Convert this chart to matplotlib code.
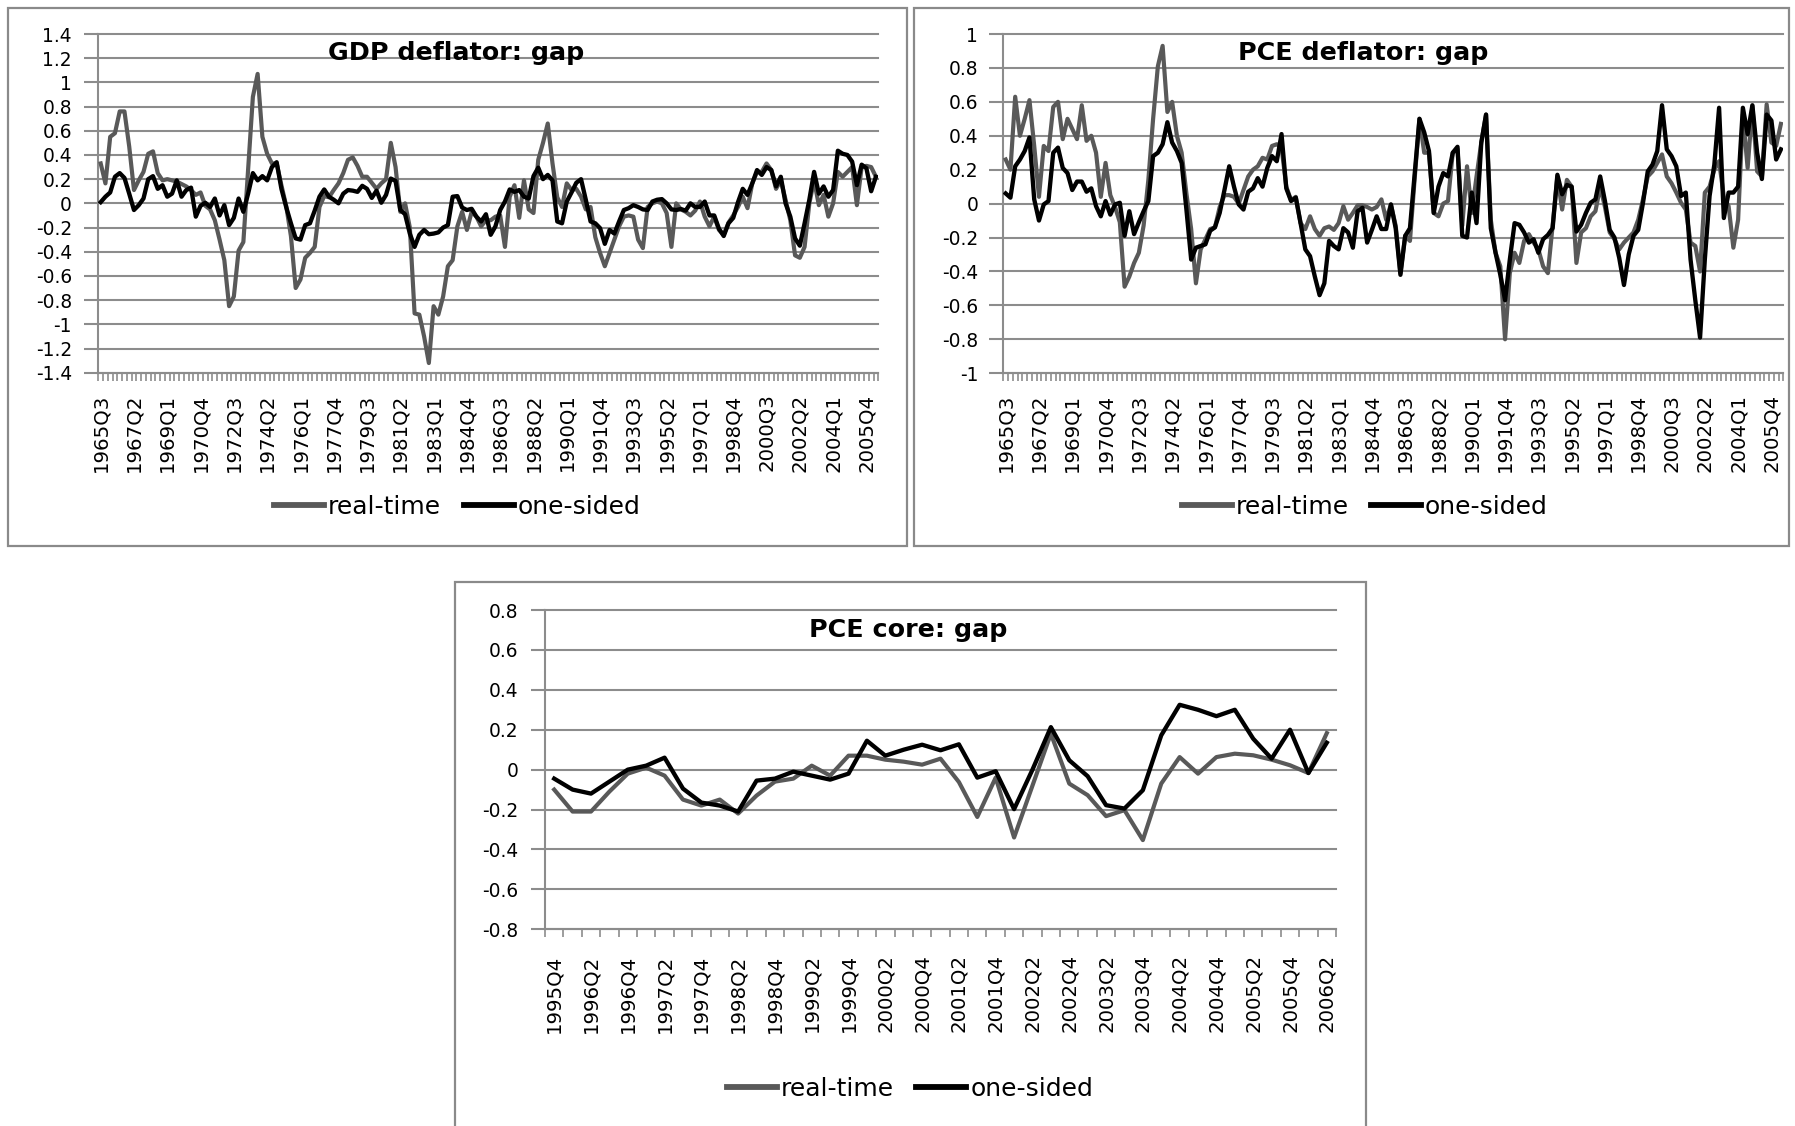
import numpy as np
import matplotlib
matplotlib.use("Agg")
import matplotlib.pyplot as plt
from matplotlib.lines import Line2D
from matplotlib.patches import Rectangle

# ---------------- data ----------------
top_tick_labels = ['1965Q3', '1967Q2', '1969Q1', '1970Q4', '1972Q3', '1974Q2', '1976Q1', '1977Q4',
                   '1979Q3', '1981Q2', '1983Q1', '1984Q4', '1986Q3', '1988Q2', '1990Q1', '1991Q4',
                   '1993Q3', '1995Q2', '1997Q1', '1998Q4', '2000Q3', '2002Q2', '2004Q1', '2005Q4']
bottom_tick_labels = ['1995Q4', '1996Q2', '1996Q4', '1997Q2', '1997Q4', '1998Q2', '1998Q4', '1999Q2',
                      '1999Q4', '2000Q2', '2000Q4', '2001Q2', '2001Q4', '2002Q2', '2002Q4', '2003Q2',
                      '2003Q4', '2004Q2', '2004Q4', '2005Q2', '2005Q4', '2006Q2']

gdp_real_time = [0.33, 0.165, 0.55, 0.58, 0.76, 0.76, 0.47, 0.11, 0.19, 0.26,
                 0.41, 0.43, 0.25, 0.19, 0.2, 0.19, 0.18, 0.16, 0.14, 0.11,
                 0.07, 0.09, -0.02, -0.05, -0.14, -0.3, -0.47, -0.85, -0.77, -0.39,
                 -0.32, 0.28, 0.88, 1.07, 0.55, 0.41, 0.33, 0.33, 0.15, -0.02,
                 -0.27, -0.7, -0.63, -0.45, -0.41, -0.36, -0.03, 0.06, 0.05, 0.11,
                 0.165, 0.25, 0.36, 0.38, 0.31, 0.22, 0.22, 0.17, 0.12, 0.165,
                 0.2, 0.5, 0.3, -0.07, 0.0, -0.2, -0.91, -0.92, -1.1, -1.32,
                 -0.85, -0.92, -0.77, -0.52, -0.47, -0.19, -0.07, -0.22, -0.07, -0.11,
                 -0.19, -0.14, -0.14, -0.11, -0.1, -0.36, 0.055, 0.15, -0.12, 0.19,
                 -0.05, -0.08, 0.36, 0.5, 0.66, 0.33, 0.05, -0.03, 0.165, 0.11,
                 0.12, 0.055, -0.05, -0.03, -0.28, -0.41, -0.52, -0.41, -0.3, -0.19,
                 -0.11, -0.1, -0.11, -0.3, -0.37, -0.03, 0.0, 0.015, 0.0, -0.08,
                 -0.36, 0.0, -0.05, -0.07, -0.1, -0.06, 0.015, -0.11, -0.19, -0.11,
                 -0.22, -0.26, -0.16, -0.1, -0.03, 0.055, -0.04, 0.165, 0.26, 0.26,
                 0.33, 0.275, 0.12, 0.19, 0.03, -0.14, -0.43, -0.45, -0.36, 0.0,
                 0.19, -0.015, 0.07, -0.11, 0.0, 0.26, 0.22, 0.26, 0.3, -0.015,
                 0.3, 0.31, 0.3, 0.22]
gdp_one_sided = [0.01, 0.055, 0.09, 0.22, 0.25, 0.21, 0.08, -0.055, -0.015, 0.04,
                 0.2, 0.225, 0.12, 0.15, 0.055, 0.08, 0.19, 0.055, 0.11, 0.13,
                 -0.11, -0.02, 0.005, -0.03, 0.04, -0.1, -0.015, -0.18, -0.12, 0.04,
                 -0.07, 0.08, 0.25, 0.19, 0.225, 0.19, 0.3, 0.34, 0.12, -0.03,
                 -0.165, -0.29, -0.3, -0.18, -0.165, -0.06, 0.055, 0.115, 0.055, 0.03,
                 0.0, 0.08, 0.11, 0.105, 0.095, 0.145, 0.12, 0.045, 0.105, 0.005,
                 0.07, 0.205, 0.185, -0.055, -0.09, -0.25, -0.36, -0.26, -0.22, -0.255,
                 -0.25, -0.24, -0.2, -0.18, 0.055, 0.06, -0.035, -0.055, -0.045, -0.11,
                 -0.15, -0.09, -0.26, -0.19, -0.055, 0.015, 0.115, 0.095, 0.11, 0.055,
                 0.04, 0.225, 0.295, 0.2, 0.235, 0.19, -0.15, -0.165, 0.015, 0.09,
                 0.17, 0.2, 0.03, -0.15, -0.165, -0.205, -0.335, -0.22, -0.25, -0.15,
                 -0.055, -0.04, -0.015, -0.03, -0.05, -0.055, 0.015, 0.03, 0.035, 0.0,
                 -0.05, -0.055, -0.047, -0.06, 0.0, -0.03, -0.03, 0.015, -0.1, -0.1,
                 -0.21, -0.27, -0.165, -0.12, 0.01, 0.12, 0.07, 0.165, 0.275, 0.235,
                 0.3, 0.275, 0.14, 0.22, 0.0, -0.11, -0.29, -0.35, -0.165, 0.03,
                 0.26, 0.08, 0.14, 0.055, 0.11, 0.435, 0.41, 0.4, 0.345, 0.15,
                 0.32, 0.29, 0.1, 0.22]

pce_real_time = [0.26, 0.2, 0.63, 0.4, 0.5, 0.61, 0.34, 0.04, 0.34, 0.31,
                 0.57, 0.6, 0.38, 0.5, 0.44, 0.38, 0.58, 0.37, 0.4, 0.3,
                 0.04, 0.24, 0.05, -0.02, -0.11, -0.49, -0.43, -0.35, -0.29, -0.13,
                 0.14, 0.5, 0.81, 0.93, 0.54, 0.6, 0.4, 0.3, 0.06, -0.15,
                 -0.47, -0.27, -0.21, -0.15, -0.14, -0.02, 0.05, 0.05, 0.04, 0.0,
                 0.08, 0.16, 0.2, 0.22, 0.27, 0.26, 0.34, 0.35, 0.33, 0.1,
                 0.02, 0.04, -0.115, -0.15, -0.075, -0.15, -0.19, -0.145, -0.135, -0.155,
                 -0.115, -0.015, -0.095, -0.055, -0.01, -0.01, -0.02, -0.035, -0.02, 0.025,
                 -0.095, -0.005, -0.13, -0.41, -0.19, -0.22, 0.15, 0.5, 0.3, 0.3,
                 -0.055, -0.075, 0.0, 0.015, 0.3, 0.32, -0.13, 0.22, -0.055, 0.16,
                 0.36, 0.525, -0.095, -0.29, -0.37, -0.8, -0.41, -0.29, -0.35, -0.22,
                 -0.18, -0.23, -0.27, -0.37, -0.41, -0.13, 0.16, -0.035, 0.14, 0.1,
                 -0.35, -0.17, -0.145, -0.075, -0.045, 0.1, -0.02, -0.17, -0.21, -0.27,
                 -0.23, -0.2, -0.17, -0.095, 0.025, 0.16, 0.19, 0.24, 0.29, 0.16,
                 0.12, 0.065, 0.005, -0.035, -0.23, -0.25, -0.4, 0.065, 0.1, 0.2,
                 0.25, 0.04, -0.015, -0.26, -0.095, 0.525, 0.21, 0.575, 0.19, 0.16,
                 0.585, 0.36, 0.34, 0.47]
pce_one_sided = [0.06, 0.035, 0.22, 0.26, 0.31, 0.39, 0.025, -0.1, -0.005, 0.015,
                 0.3, 0.33, 0.21, 0.18, 0.08, 0.13, 0.13, 0.07, 0.09, -0.015,
                 -0.075, 0.015, -0.065, -0.005, 0.005, -0.19, -0.045, -0.18, -0.11, -0.045,
                 0.015, 0.28, 0.3, 0.35, 0.48, 0.36, 0.31, 0.24, -0.035, -0.33,
                 -0.26, -0.25, -0.24, -0.16, -0.14, -0.055, 0.08, 0.22, 0.1, -0.005,
                 -0.035, 0.07, 0.09, 0.15, 0.1, 0.21, 0.28, 0.25, 0.41, 0.09,
                 0.015, 0.035, -0.115, -0.27, -0.31, -0.43, -0.54, -0.47, -0.22, -0.25,
                 -0.27, -0.145, -0.17, -0.26, -0.045, -0.025, -0.23, -0.155, -0.075, -0.15,
                 -0.15, -0.005, -0.145, -0.42, -0.19, -0.145, 0.18, 0.5, 0.42, 0.31,
                 -0.055, 0.1, 0.18, 0.16, 0.3, 0.335, -0.19, -0.2, 0.065, -0.115,
                 0.36, 0.525, -0.145, -0.29, -0.42, -0.57, -0.33, -0.115, -0.125, -0.17,
                 -0.23, -0.21, -0.29, -0.21, -0.185, -0.145, 0.17, 0.055, 0.11, 0.1,
                 -0.165, -0.125, -0.055, 0.005, 0.025, 0.16, 0.015, -0.155, -0.2, -0.32,
                 -0.48, -0.3, -0.19, -0.155, 0.005, 0.19, 0.23, 0.31, 0.58, 0.32,
                 0.28, 0.22, 0.045, 0.065, -0.33, -0.57, -0.79, -0.33, 0.045, 0.23,
                 0.565, -0.085, 0.065, 0.065, 0.1, 0.565, 0.41, 0.58, 0.3, 0.145,
                 0.525, 0.49, 0.26, 0.32]

core_real_time = [-0.10, -0.21, -0.21, -0.11, -0.02, 0.01, -0.03, -0.15, -0.18, -0.15,
                  -0.22, -0.13, -0.06, -0.045, 0.02, -0.03, 0.07, 0.07, 0.05, 0.04,
                  0.025, 0.055, -0.062, -0.237, -0.04, -0.34, -0.08, 0.18, -0.07, -0.128,
                  -0.233, -0.203, -0.353, -0.07, 0.063, -0.02, 0.063, 0.08, 0.072, 0.05,
                  0.022, -0.017, 0.183]
core_one_sided = [-0.045, -0.10, -0.12, -0.06, 0.0, 0.02, 0.06, -0.095, -0.165, -0.18,
                  -0.21, -0.055, -0.045, -0.01, -0.03, -0.05, -0.02, 0.145, 0.07, 0.10,
                  0.125, 0.097, 0.127, -0.04, -0.008, -0.198, 0.0, 0.213, 0.047, -0.033,
                  -0.178, -0.195, -0.103, 0.172, 0.325, 0.30, 0.268, 0.30, 0.155, 0.055,
                  0.20, -0.017, 0.135]

# ---------------- layout helpers ----------------
W, H = 1795, 1126
GRAY_LINE = '#595959'
GRID = '#8c8c8c'
BOX = '#8a8a8a'

fig = plt.figure(figsize=(W / 100, H / 100), dpi=100)


def px_axes(left, top, right, bottom):
    return fig.add_axes([left / W, 1 - bottom / H, (right - left) / W, (bottom - top) / H])


def fmt(v):
    v = round(v, 1)
    if abs(v) < 1e-9:
        return '0'
    return ('%.1f' % v).rstrip('0').rstrip('.')


def panel(ax, real, onesided, ylo, yhi, labels, step, ypad, xpad):
    n = len(real)
    x = np.arange(n)
    ax.plot(x, real, color=GRAY_LINE, lw=3.0, solid_joinstyle='round', zorder=3)
    ax.plot(x, onesided, color='black', lw=3.1, solid_joinstyle='round', zorder=4)
    ax.set_xlim(-0.5, n - 0.5)
    ax.set_ylim(ylo, yhi)
    yt = np.round(np.arange(ylo, yhi + 1e-9, 0.2), 1)
    ax.set_yticks(yt)
    ax.set_yticklabels([fmt(v) for v in yt])
    ax.yaxis.grid(True, color=GRID, lw=1.5)
    for gl in ax.get_ygridlines():
        gl.set_clip_on(False)
    ax.set_axisbelow(True)
    for s in ['top', 'right']:
        ax.spines[s].set_visible(False)
    for s in ['left', 'bottom']:
        ax.spines[s].set_color(GRID)
        ax.spines[s].set_linewidth(1.5)
    ax.tick_params(axis='y', length=10, width=1.5, color=GRID, pad=ypad, labelsize=13.4)
    ax.set_xticks(np.arange(-0.5, n, 1), minor=True)
    ax.tick_params(axis='x', which='minor', length=6, width=1.2, color=GRID)
    ax.set_xticks(np.arange(0, n, step))
    ax.set_xticklabels(labels, rotation=90)
    ax.tick_params(axis='x', which='major', length=0, labelsize=14.2, pad=xpad)
    ax.set_facecolor('none')
    return ax


# panel frames
for (x0, y0, x1, y1) in [(8, 8, 906.7, 546), (913.5, 8, 1789, 546), (454.5, 581.5, 1365.7, 1140)]:
    fig.add_artist(Rectangle((x0 / W, 1 - y1 / H), (x1 - x0) / W, (y1 - y0) / H,
                             transform=fig.transFigure, fill=False, edgecolor=BOX, lw=1.6))

ax1 = px_axes(98.3, 34, 878.3, 372.7)
panel(ax1, gdp_real_time, gdp_one_sided, -1.4, 1.4, top_tick_labels, 7, 9, 15)

ax2 = px_axes(1003.3, 34, 1783.3, 373.2)
panel(ax2, pce_real_time, pce_one_sided, -1.0, 1.0, top_tick_labels, 7, 8, 15)

ax3 = px_axes(545, 610, 1336, 929.3)
panel(ax3, core_real_time, core_one_sided, -0.8, 0.8, bottom_tick_labels, 2, 9, 18)

# titles
for (cx, by, txt) in [(456, 60, 'GDP deflator: gap'), (1363, 60, 'PCE deflator: gap'),
                      (908, 637, 'PCE core: gap')]:
    fig.text(cx / W, 1 - by / H, txt, ha='center', va='baseline', fontsize=18.3,
             fontweight='bold', color='black')

# legends
handles = [Line2D([], [], color=GRAY_LINE, lw=4.2), Line2D([], [], color='black', lw=4.2)]
names = ['real-time', 'one-sided']
for (cx, cy) in [(457.5, 507), (1365, 507), (910, 1089)]:
    fig.legend(handles, names, loc='center', bbox_to_anchor=(cx / W, 1 - cy / H), ncol=2,
               frameon=False, fontsize=18, handlelength=2.0, handletextpad=0.15,
               columnspacing=0.9, borderpad=0, borderaxespad=0)

fig.savefig('out.png', dpi=100, facecolor='white')
